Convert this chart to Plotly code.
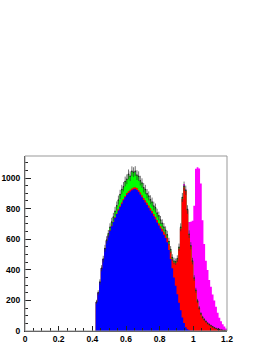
import numpy as np
import plotly.graph_objects as go

# bin layout: 120 bins of width 0.01 on [0, 1.2]; values given for bins 42..119
first_bin = 42
bin_width = 0.01

blue = [190, 250, 320, 410, 470, 540, 590, 625, 655, 685,      # 42-51
        712, 740, 765, 788, 810, 832, 855, 875, 890, 902,      # 52-61
        912, 920, 926, 928, 922, 910, 893, 875, 857, 840,      # 62-71
        823, 806, 788, 770, 750, 730, 710, 690, 670, 650,      # 72-81
        630, 608, 580, 530, 470, 410, 350, 295, 240, 185,      # 82-91
        135, 88, 52, 25, 12, 5, 2, 1, 0, 0,                    # 92-101
        0, 0, 0, 0, 0, 0, 0, 0, 0, 0,                          # 102-111
        0, 0, 0, 0, 0, 0, 0, 0]                                # 112-119

red = [0, 0, 0, 0, 0, 0, 0, 0, 3, 3,
       3, 3, 3, 8, 8, 8, 8, 8, 12, 12,
       12, 12, 12, 12, 12, 12, 12, 12, 12, 15,
       15, 15, 15, 15, 15, 15, 15, 15, 15, 18,
       20, 25, 30, 40, 50, 60, 100, 150, 225, 355,
       535, 777, 888, 890, 778, 625, 553, 454, 345, 265,
       195, 150, 112, 90, 75, 62, 50, 42, 35, 28,
       22, 17, 12, 9, 7, 5, 4, 3]

green = [0, 0, 0, 0, 0, 0, 5, 10, 20, 25,
         30, 40, 50, 60, 75, 85, 80, 95, 90, 110,
         88, 112, 100, 105, 85, 90, 78, 80, 68, 70,
         60, 62, 55, 58, 52, 60, 46, 48, 40, 36,
         30, 25, 20, 15, 12, 10, 8, 8, 8, 8,
         8, 8, 6, 5, 4, 3, 2, 2, 1, 1,
         1, 1, 1, 0, 0, 0, 0, 0, 0, 0,
         0, 0, 0, 0, 0, 0, 0, 0]

magenta = [0, 0, 0, 0, 0, 0, 0, 0, 0, 0,
           0, 0, 0, 0, 0, 0, 0, 0, 0, 0,
           0, 0, 0, 0, 0, 0, 0, 0, 0, 0,
           0, 0, 0, 0, 0, 0, 0, 0, 0, 0,
           0, 0, 0, 0, 0, 0, 0, 0, 0, 0,
           0, 0, 15, 5, 5, 80, 157, 263, 473, 794,
           874, 911, 852, 634, 494, 397, 349, 292, 254, 211,
           177, 142, 107, 78, 57, 39, 25, 14]

x_ticks = [0, 0.2, 0.4, 0.6, 0.8, 1.0, 1.2]
x_ticktext = ["0", "0.2", "0.4", "0.6", "0.8", "1", "1.2"]
y_ticks = [0, 200, 400, 600, 800, 1000]

n = len(blue)
edges = first_bin * bin_width + bin_width * np.arange(n + 1)
centers = edges[:-1] + bin_width / 2

b = np.array(blue, float)
r = np.array(red, float)
g = np.array(green, float)
m = np.array(magenta, float)

layers = [
    (b + r + g + m, "#ff00ff"),
    (b + r + g, "#00ff00"),
    (b + r, "#ff0000"),
    (b, "#0000ff"),
]

fig = go.Figure()
for vals, col in layers:
    xs = np.concatenate([[edges[0]], edges])
    ys = np.concatenate([[0], vals, [vals[-1]]])
    fig.add_trace(go.Scatter(x=xs, y=ys, mode="lines", line=dict(shape="hv", width=0, color=col),
                             fill="tozeroy", fillcolor=col, hoverinfo="skip", showlegend=False))

data = b + r + g
mask = data > 0
fig.add_trace(go.Scatter(
    x=centers[mask], y=data[mask], mode="markers",
    marker=dict(color="#222", size=1.5),
    error_y=dict(type="data", array=np.sqrt(data[mask]), color="#333", thickness=0.7, width=0),
    showlegend=False, hoverinfo="skip"))

tickfont = dict(family="Liberation Sans", size=8.5, color="black", weight="bold")

fig.update_layout(
    width=273, height=353,
    margin=dict(l=25, r=46, t=156, b=22),
    paper_bgcolor="white", plot_bgcolor="white",
    showlegend=False,
    xaxis=dict(range=[0, 1.2], tickvals=x_ticks, ticktext=x_ticktext, ticks="inside",
               ticklen=5, tickcolor="#222", tickwidth=1, showgrid=False, zeroline=False,
               showline=True, linecolor="#333", linewidth=1, tickfont=tickfont, automargin=False,
               minor=dict(dtick=0.05, ticks="inside", ticklen=3, tickcolor="#222", showgrid=False)),
    yaxis=dict(range=[0, 1144], tickvals=y_ticks, ticks="inside",
               ticklen=6, tickcolor="#222", tickwidth=1, showgrid=False, zeroline=False,
               showline=True, linecolor="#333", linewidth=1, tickfont=tickfont, automargin=False,
               ticklabelstandoff=2,
               minor=dict(dtick=50, ticks="inside", ticklen=3, tickcolor="#222", showgrid=False)),
    shapes=[dict(type="rect", xref="paper", yref="paper", x0=0, y0=0, x1=1, y1=1,
                 line=dict(color="#999", width=1), layer="above")],
)

fig.write_html("out.html", config={"displayModeBar": False},
               post_script="document.body.style.margin='0';document.body.style.overflow='hidden';")
